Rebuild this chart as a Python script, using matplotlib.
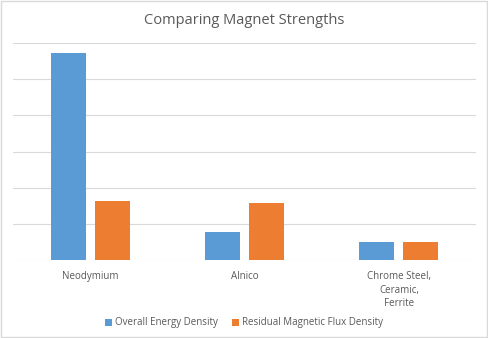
import numpy as np
import matplotlib.pyplot as plt
from matplotlib.patches import Rectangle

categories = ['Neodymium', 'Alnico', 'Chrome Steel,\nCeramic,\nFerrite']
energy_density = [5.71, 0.77, 0.49]
flux_density = [1.63, 1.57, 0.49]
series_names = ['Overall Energy Density', 'Residual Magnetic Flux Density']

blue = '#5b9bd5'
orange = '#ed7d31'
text_col = '#595959'
grid_col = '#d9d9d9'

plt.rcParams['font.family'] = ['Open Sans', 'DejaVu Sans']

fig = plt.figure(figsize=(4.88, 3.38), dpi=100)
ax = fig.add_axes([13 / 488, 1 - 260 / 338, 463 / 488, 217 / 338])

x = np.arange(len(categories))
w = 0.227
off = 0.143
ax.bar(x - off, energy_density, w, color=blue, label=series_names[0], zorder=3)
ax.bar(x + off, flux_density, w, color=orange, label=series_names[1], zorder=3)

ax.set_xlim(-0.5, 2.5)
ax.set_ylim(0, 6)
ax.set_yticks(range(7))
ax.set_yticklabels([])
ax.tick_params(axis='y', length=0)
ax.tick_params(axis='x', length=0, pad=8, labelsize=7, labelcolor=text_col)
ax.set_xticks(x)
ax.set_xticklabels(categories, linespacing=1.3, va='top')
ax.grid(axis='y', color=grid_col, linewidth=0.8, zorder=0)
for s in ax.spines.values():
    s.set_visible(False)

fig.text(0.5, 1 - 20 / 338, 'Comparing Magnet Strengths', ha='center', va='center',
         fontsize=10.5, color=text_col)

fig.legend(loc='center', bbox_to_anchor=(0.5, 1 - 323 / 338), ncol=2, frameon=False,
           fontsize=7, labelcolor=text_col, handlelength=0.7, handleheight=0.7,
           handletextpad=0.3, columnspacing=1.5)

fig.patches.append(Rectangle((0.002, 0.002), 0.996, 0.996, transform=fig.transFigure,
                             fill=False, edgecolor=grid_col, linewidth=1))

fig.savefig('out.png', dpi=100)
